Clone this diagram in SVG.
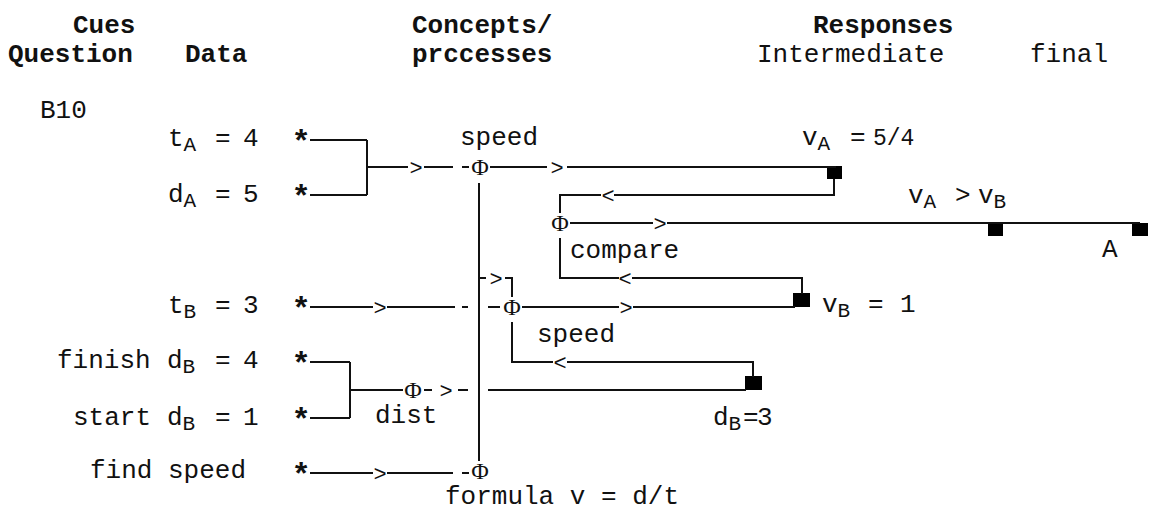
<svg xmlns="http://www.w3.org/2000/svg" width="1150" height="511" viewBox="0 0 1150 511">
  <style>
    text { font-family: "Liberation Mono", "Courier New", monospace; font-size: 26px; fill: #111; }
    .hd { font-weight: bold; }
    .sub { font-size: 21px; }
    .frac { font-size: 23px; }
    .star { font-weight: bold; font-size: 32px; text-anchor: middle; }
    .ar { font-size: 22px; text-anchor: middle; }
    .phi { font-family: "Liberation Serif", "Times New Roman", serif; font-size: 24px; text-anchor: middle; }
    .ln { fill: none; stroke: #111; stroke-width: 2; }
    .blk { fill: #000; }
  </style>
  <rect width="1150" height="511" fill="#fff"/>

  <!-- column headings -->
  <g id="headings">
    <text class="hd" x="73" y="33">Cues</text>
    <text class="hd" x="8" y="62">Question</text>
    <text class="hd" x="185" y="62">Data</text>
    <text class="hd" x="412" y="33">Concepts/</text>
    <text class="hd" x="412" y="62">prccesses</text>
    <text class="hd" x="813" y="33">Responses</text>
    <text x="757" y="62">Intermediate</text>
    <text x="1030" y="62">final</text>
  </g>

  <g id="question">
    <text x="40" y="118">B10</text>
  </g>

  <!-- data cues -->
  <g id="data-tA">
    <text x="168" y="146">t<tspan class="sub" dy="5">A</tspan><tspan x="215" dy="-5">=</tspan><tspan x="243">4</tspan></text>
    <text class="star" x="301" y="152">*</text>
  </g>
  <g id="data-dA">
    <text x="168" y="202">d<tspan class="sub" dy="5">A</tspan><tspan x="215" dy="-5">=</tspan><tspan x="243">5</tspan></text>
    <text class="star" x="301" y="207">*</text>
  </g>
  <g id="data-tB">
    <text x="168" y="313">t<tspan class="sub" dy="5">B</tspan><tspan x="215" dy="-5">=</tspan><tspan x="243">3</tspan></text>
    <text class="star" x="301" y="319">*</text>
  </g>
  <g id="data-finish">
    <text x="57" y="368">finish<tspan x="167">d</tspan><tspan class="sub" dy="5">B</tspan><tspan x="215" dy="-5">=</tspan><tspan x="243">4</tspan></text>
    <text class="star" x="301" y="374">*</text>
  </g>
  <g id="data-start">
    <text x="73" y="425">start<tspan x="167">d</tspan><tspan class="sub" dy="5">B</tspan><tspan x="215" dy="-5">=</tspan><tspan x="243">1</tspan></text>
    <text class="star" x="301" y="430">*</text>
  </g>
  <g id="data-find">
    <text x="90" y="478">find speed</text>
    <text class="star" x="301" y="485">*</text>
  </g>

  <!-- concept / process nodes -->
  <g id="proc-speedA">
    <text x="460" y="145">speed</text>
    <text class="phi" x="480" y="175">Φ</text>
  </g>
  <g id="proc-compare">
    <text x="570" y="258">compare</text>
    <text class="phi" x="560" y="231">Φ</text>
  </g>
  <g id="proc-speedB">
    <text x="537" y="342">speed</text>
    <text class="phi" x="512" y="315">Φ</text>
  </g>
  <g id="proc-dist">
    <text x="375" y="423">dist</text>
    <text class="phi" x="413" y="398">Φ</text>
  </g>
  <g id="proc-formula">
    <text x="445" y="504">formula v = d/t</text>
    <text class="phi" x="480" y="479">Φ</text>
  </g>

  <!-- responses -->
  <g id="resp-vA">
    <rect class="blk" x="827" y="166" width="15" height="13"/>
    <text x="802" y="145">v<tspan class="sub" dy="5">A</tspan><tspan x="850" dy="-5">=</tspan><tspan class="frac" x="873">5/4</tspan></text>
  </g>
  <g id="resp-vB">
    <rect class="blk" x="793" y="293" width="17" height="14"/>
    <text x="822" y="312">v<tspan class="sub" dy="5">B</tspan><tspan x="868" dy="-5">=</tspan><tspan x="900">1</tspan></text>
  </g>
  <g id="resp-dB">
    <rect class="blk" x="745" y="376" width="17" height="14"/>
    <text x="713" y="425">d<tspan class="sub" dy="5">B</tspan><tspan x="743" dy="-5">=</tspan><tspan x="757">3</tspan></text>
  </g>
  <g id="resp-compare">
    <rect class="blk" x="988" y="223" width="15" height="13"/>
    <text x="908" y="203">v<tspan class="sub" dy="5">A</tspan><tspan x="955" dy="-5">&gt;</tspan><tspan x="978">v</tspan><tspan class="sub" dy="5">B</tspan></text>
  </g>
  <g id="resp-final">
    <rect class="blk" x="1132" y="223" width="16" height="13"/>
    <text x="1102" y="257">A</text>
  </g>

  <!-- connectors -->
  <g id="connectors">
    <!-- tA, dA join into speed -->
    <path class="ln" d="M310,140 H367 M310,195 H367 M367,140 V195 M367,167 H408 M424,167 H453 M462,167 H469 M490,167 H547 M567,167 H836"/>
    <text class="ar" x="416" y="175">&gt;</text>
    <text class="ar" x="557" y="175">&gt;</text>
    <!-- vA back to compare -->
    <path class="ln" d="M834,179 V195 H614 M601,195 H560 V213"/>
    <text class="ar" x="608" y="203">&lt;</text>
    <!-- compare to responses -->
    <path class="ln" d="M570,223 H653 M667,223 H1140"/>
    <text class="ar" x="660" y="231">&gt;</text>
    <!-- vB back to compare -->
    <path class="ln" d="M560,238 V278 H619 M632,278 H802 V294"/>
    <text class="ar" x="625" y="286">&lt;</text>
    <!-- vertical trunk from speed to formula -->
    <path class="ln" d="M479,183 V461"/>
    <!-- branch into speed B -->
    <path class="ln" d="M479,278 H486 M505,278 H512 V297"/>
    <text class="ar" x="496" y="286">&gt;</text>
    <!-- tB into speed B and on to vB -->
    <path class="ln" d="M310,307 H373 M387,307 H455 M462,307 H468 M488,307 H500 M522,307 H619 M633,307 H795"/>
    <text class="ar" x="380" y="315">&gt;</text>
    <text class="ar" x="626" y="315">&gt;</text>
    <!-- dB back to speed B -->
    <path class="ln" d="M512,322 V362 H553 M567,362 H753 V377"/>
    <text class="ar" x="560" y="370">&lt;</text>
    <!-- finish, start into dist and on to dB -->
    <path class="ln" d="M310,362 H350 M310,418 H350 M350,362 V418 M350,390 H403 M424,390 H432 M458,390 H468 M488,390 H746"/>
    <text class="ar" x="446" y="398">&gt;</text>
    <!-- find speed into formula -->
    <path class="ln" d="M310,473 H373 M387,473 H453 M462,473 H469"/>
    <text class="ar" x="380" y="481">&gt;</text>
  </g>
</svg>
